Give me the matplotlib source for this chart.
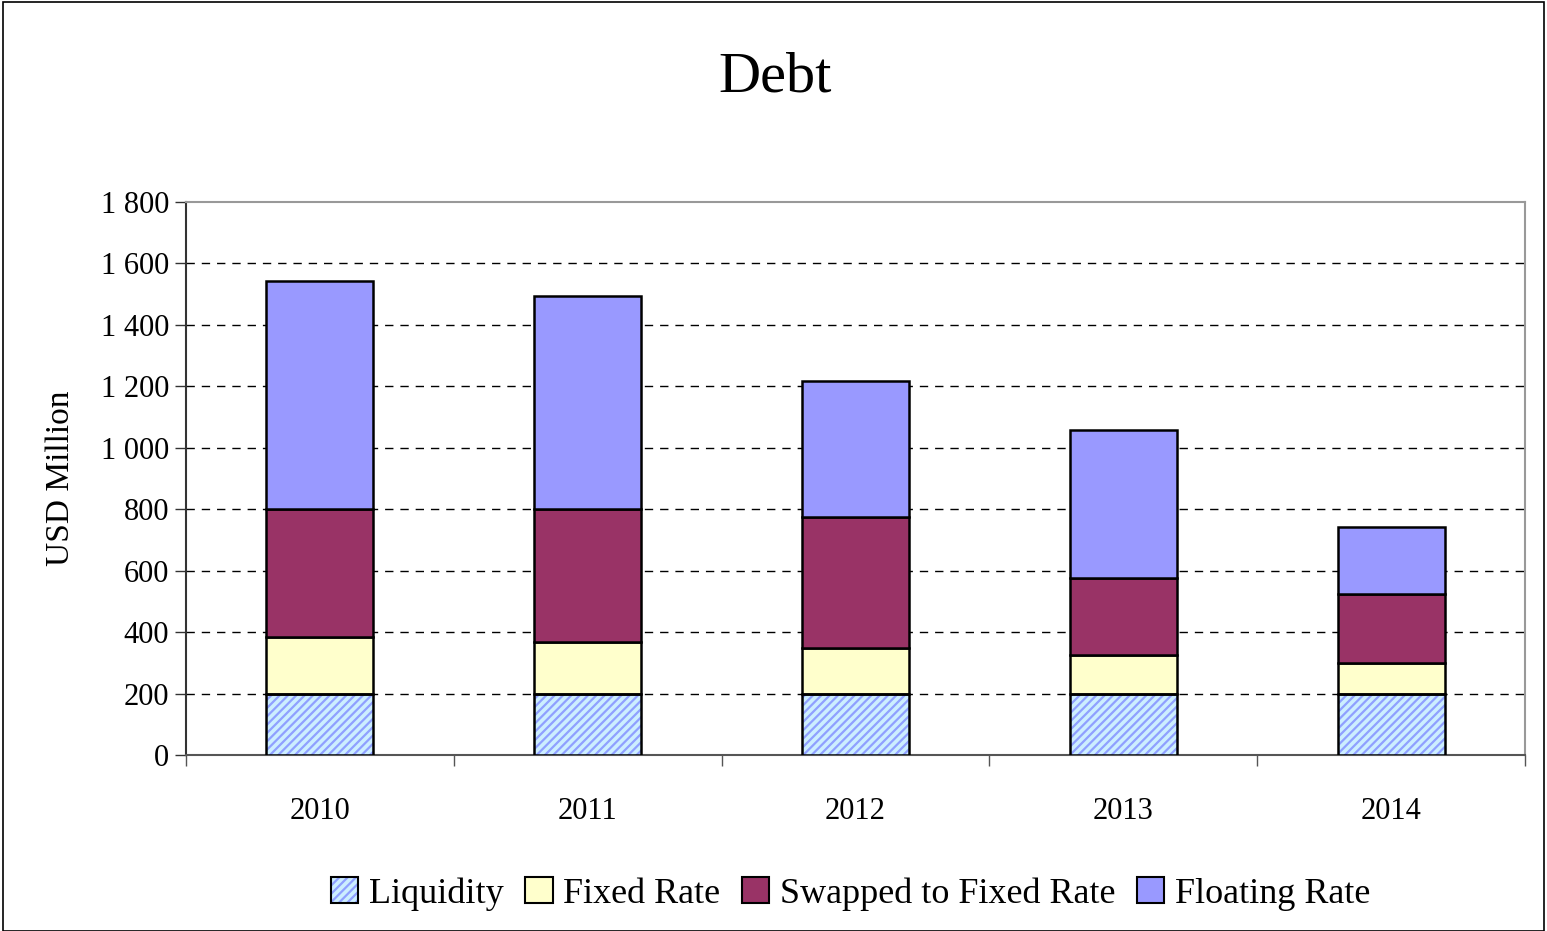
import matplotlib

matplotlib.use("Agg")
import matplotlib.pyplot as plt
from matplotlib.patches import Patch, Rectangle
import numpy as np

years = ["2010", "2011", "2012", "2013", "2014"]
liquidity = [200, 200, 200, 200, 200]
fixed_rate = [184, 168, 148, 125, 100]
swapped = [416, 432, 427, 251, 224]
floating = [743, 694, 442, 482, 218]
y_ticks = [0, 200, 400, 600, 800, 1000, 1200, 1400, 1600, 1800]

plt.rcParams["font.family"] = ["Liberation Serif", "DejaVu Serif"]
plt.rcParams["hatch.linewidth"] = 1.6

fig = plt.figure(figsize=(15.47, 9.31), dpi=100)
ax = fig.add_axes([0.1202, 0.189, 0.8656, 0.594])

x = np.arange(len(years))
width = 0.40
edge = "#000000"
liq_face = "#CCEEFF"
liq_hatch = "#8FA0FF"

# liquidity: hatched fill first, then a black outline on top
ax.bar(x, liquidity, width, color=liq_face, edgecolor=liq_hatch, hatch="////", linewidth=0, zorder=3)
ax.bar(x, liquidity, width, fill=False, edgecolor=edge, linewidth=1.8, zorder=4)

bottom = np.array(liquidity, dtype=float)
for values, colour in [(fixed_rate, "#FFFFCC"), (swapped, "#993366"), (floating, "#9999FF")]:
    ax.bar(x, values, width, bottom=bottom, color=colour, edgecolor=edge, linewidth=1.8, zorder=3)
    bottom += np.array(values)

ax.set_xlim(-0.5, len(years) - 0.5)
ax.set_ylim(0, 1800)
ax.set_yticks(y_ticks)
ax.set_yticklabels([f"{v:,}".replace(",", " ") for v in y_ticks], fontsize=22)
ax.set_xticks(x)
ax.set_xticklabels(years, fontsize=22)
ax.set_xticks(np.arange(len(years) + 1) - 0.5, minor=True)
ax.tick_params(axis="x", which="major", length=0, pad=30)
ax.tick_params(axis="x", which="minor", length=8, width=1, color="#555555")
ax.tick_params(axis="y", length=8, width=1, color="#333333", pad=4)

for v in y_ticks[1:-1]:
    ax.axhline(v, color="black", linestyle=(0, (6, 5)), linewidth=1, zorder=1)

ax.spines["left"].set_color("#333333")
ax.spines["bottom"].set_color("#555555")
ax.spines["top"].set_color("#999999")
ax.spines["right"].set_color("#999999")
for s in ax.spines.values():
    s.set_linewidth(1.5)

ax.set_ylabel("USD Million", fontsize=24, labelpad=18)
fig.text(0.501, 0.917, "Debt", ha="center", va="center", fontsize=42)

liq_handle = (
    Patch(facecolor=liq_face, edgecolor=liq_hatch, hatch="////", linewidth=0),
    Patch(fill=False, edgecolor=edge, linewidth=1.5),
)
handles = [
    liq_handle,
    Patch(facecolor="#FFFFCC", edgecolor=edge, linewidth=1.5),
    Patch(facecolor="#993366", edgecolor=edge, linewidth=1.5),
    Patch(facecolor="#9999FF", edgecolor=edge, linewidth=1.5),
]
leg = fig.legend(
    handles,
    ["Liquidity", "Fixed Rate", "Swapped to Fixed Rate", "Floating Rate"],
    loc="center",
    bbox_to_anchor=(0.550, 0.04),
    ncol=4,
    frameon=False,
    fontsize=26,
    handlelength=0.75,
    handleheight=0.75,
    handletextpad=0.3,
    columnspacing=0.6,
)

fig.patches.append(
    Rectangle((0.002, 0.0), 0.996, 0.998, transform=fig.transFigure, fill=False, edgecolor="black", linewidth=1.2)
)

fig.savefig("out.png", dpi=100, facecolor="white")
